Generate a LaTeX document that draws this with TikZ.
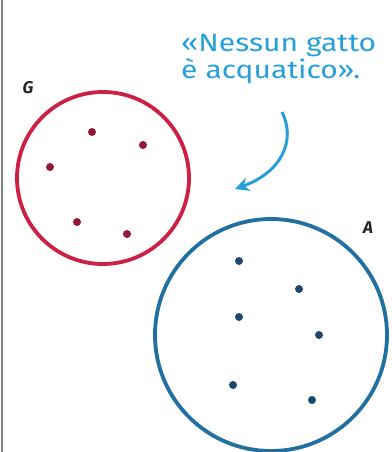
\documentclass[tikz,border=0pt]{standalone}
\usepackage{fontspec}
\setmainfont{Fira Sans}
\usetikzlibrary{arrows.meta}
\definecolor{setred}{RGB}{204,32,68}
\definecolor{dotred}{RGB}{150,24,56}
\definecolor{setblue}{RGB}{34,112,160}
\definecolor{dotblue}{RGB}{30,72,110}
\definecolor{noteblue}{RGB}{40,160,215}
\tikzset{
  setcircle/.style={circle, draw, line width=3.8pt, inner sep=0pt},
  elem/.style={circle, fill, inner sep=0pt, minimum size=8pt},
  setlabel/.style={font=\itshape\bfseries\fontsize{17}{17}\selectfont, text=black!85},
  note/.style={align=left, text=noteblue, font=\fontsize{25}{27}\selectfont, inner sep=0pt, anchor=north west, xscale=1.2},
}
\begin{document}
\begin{tikzpicture}[x=1pt,y=-1pt]
\useasboundingbox (0,0) rectangle (391,452);
\fill[white] (0,0) rectangle (391,452);
\draw[gray, line width=2pt] (2,0) -- (2,452);
% set G
\node[setcircle, draw=setred, minimum size=172pt] (G) at (103,178) {};
\node[setlabel] (Glab) at (28,88) {G};
\foreach \x/\y [count=\i] in {92/132,143/145,50/167,77/222,127/234}
  \node[elem, fill=dotred] (g\i) at (\x,\y) {};
% set A
\node[setcircle, draw=setblue, minimum size=232pt] (A) at (271,335) {};
\node[setlabel] (Alab) at (368,228) {A};
\foreach \x/\y [count=\i] in {239/261,299/289,239/317,319/335,233/385,312/400}
  \node[elem, fill=dotblue] (a\i) at (\x,\y) {};
% note
\node[note] (txt) at (181,34) {«Nessun gatto\\è acquatico».};
\coordinate (s) at (282,112);
\coordinate (e) at (235,189);
\draw[noteblue, line width=3pt, -{Stealth[length=14pt,width=14pt]}]
  (s) .. controls (296,140) and (282,172) .. (e);
\end{tikzpicture}
\end{document}
